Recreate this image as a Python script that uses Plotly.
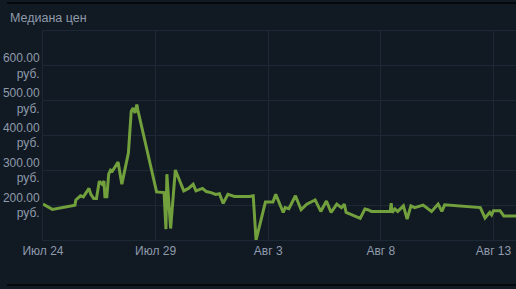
import plotly.graph_objects as go

dates = [
    "2019-07-24 00:00", "2019-07-24 10:00", "2019-07-25 10:00", "2019-07-25 11:00", "2019-07-25 16:00",
    "2019-07-25 19:00", "2019-07-26 01:00", "2019-07-26 03:00", "2019-07-26 06:00", "2019-07-26 09:00",
    "2019-07-26 12:00", "2019-07-26 15:00", "2019-07-26 17:00", "2019-07-26 18:00", "2019-07-26 20:00",
    "2019-07-26 22:00", "2019-07-27 00:00", "2019-07-27 02:00", "2019-07-27 08:00", "2019-07-27 12:00",
    "2019-07-27 19:00", "2019-07-27 22:00", "2019-07-28 00:00", "2019-07-28 02:00", "2019-07-28 04:00",
    "2019-07-28 05:00", "2019-07-29 01:00", "2019-07-29 09:00", "2019-07-29 11:00", "2019-07-29 12:00",
    "2019-07-29 16:00", "2019-07-29 21:00", "2019-07-30 06:00", "2019-07-30 11:00", "2019-07-30 16:00",
    "2019-07-30 19:00", "2019-07-31 02:00", "2019-07-31 06:00", "2019-07-31 11:00", "2019-07-31 16:00",
    "2019-07-31 20:00", "2019-08-01 00:00", "2019-08-01 05:00", "2019-08-01 12:00", "2019-08-02 04:00",
    "2019-08-02 08:00", "2019-08-02 11:00", "2019-08-02 21:00", "2019-08-03 05:00", "2019-08-03 08:00",
    "2019-08-03 16:00", "2019-08-03 18:00", "2019-08-03 22:00", "2019-08-04 05:00", "2019-08-04 11:00",
    "2019-08-04 17:00", "2019-08-05 02:00", "2019-08-05 08:00", "2019-08-05 14:00", "2019-08-05 19:00",
    "2019-08-06 01:00", "2019-08-06 06:00", "2019-08-06 09:00", "2019-08-06 11:00", "2019-08-07 02:00",
    "2019-08-07 07:00", "2019-08-07 10:00", "2019-08-07 14:00", "2019-08-08 10:00", "2019-08-08 11:00",
    "2019-08-08 12:00", "2019-08-08 15:00", "2019-08-08 18:00", "2019-08-09 00:00", "2019-08-09 04:00",
    "2019-08-09 08:00", "2019-08-09 12:00", "2019-08-09 21:00", "2019-08-10 06:00", "2019-08-10 13:00",
    "2019-08-10 17:00", "2019-08-10 20:00", "2019-08-12 10:00", "2019-08-12 15:00", "2019-08-12 20:00",
    "2019-08-12 22:00", "2019-08-13 00:00", "2019-08-13 07:00", "2019-08-13 11:00", "2019-08-14 00:00",
]
prices = [
    203, 188, 200, 215, 227,
    224, 248, 231, 219, 219,
    269, 260, 269, 224, 224,
    289, 301, 298, 324, 260,
    350, 469, 479, 465, 489,
    474, 238, 236, 131, 289,
    133, 301, 241, 248, 260,
    241, 248, 239, 236, 231,
    233, 205, 231, 225, 225,
    227, 100, 209, 209, 231,
    179, 193, 190, 227, 187,
    203, 215, 182, 212, 179,
    203, 193, 203, 179, 162,
    189, 187, 182, 182, 206,
    179, 189, 182, 198, 160,
    198, 193, 200, 182, 203,
    182, 201, 193, 163, 179,
    172, 184, 184, 169, 169,
]

x_tick_vals = ["2019-07-24", "2019-07-29", "2019-08-03", "2019-08-08", "2019-08-13"]
x_tick_text = ["Июл 24", "Июл 29", "Авг 3", "Авг 8", "Авг 13"]
y_tick_vals = [200, 300, 400, 500, 600]
y_tick_text = ["200.00<br>руб.", "300.00<br>руб.", "400.00<br>руб.", "500.00<br>руб.", "600.00<br>руб."]
title_text = "Медиана цен"

BG = "#111923"
GRID = "#1d2836"
TXT = "#8f9bab"

fig = go.Figure()
fig.add_trace(go.Scatter(
    x=dates, y=prices, mode="lines",
    line=dict(color="#72a03c", width=3),
    hoverinfo="skip",
))

fig.update_layout(
    width=516, height=289,
    margin=dict(l=43, r=0, t=31, b=49),
    paper_bgcolor=BG, plot_bgcolor=BG,
    showlegend=False,
    font=dict(family="Liberation Sans, Arial, sans-serif", size=12, color=TXT),
    xaxis=dict(
        range=["2019-07-24 00:00", "2019-08-14 00:00"],
        tickvals=x_tick_vals, ticktext=x_tick_text,
        showgrid=True, gridcolor=GRID, gridwidth=1,
        zeroline=False, showline=True, linecolor=GRID, linewidth=1, mirror=True,
        ticks="", tickfont=dict(size=12, color=TXT),
    ),
    yaxis=dict(
        range=[100, 700],
        tickvals=y_tick_vals, ticktext=y_tick_text,
        showgrid=True, gridcolor=GRID, gridwidth=1,
        zeroline=False, showline=True, linecolor=GRID, linewidth=1, mirror=True,
        ticks="", ticklabelstandoff=0, tickfont=dict(size=12, color=TXT),
    ),
)

fig.add_annotation(
    text=title_text, xref="paper", yref="paper",
    x=(8 - 43) / 473, y=(240 - 18) / 209, xanchor="left", yanchor="middle",
    showarrow=False, font=dict(size=12.5, color=TXT),
)
for ypx in (3, 285):
    fig.add_shape(
        type="line", xref="paper", yref="paper",
        x0=(7 - 43) / 473, x1=1.0, y0=(240 - ypx) / 209, y1=(240 - ypx) / 209,
        line=dict(color="#05080c", width=2),
    )

fig.write_html("out.html")
